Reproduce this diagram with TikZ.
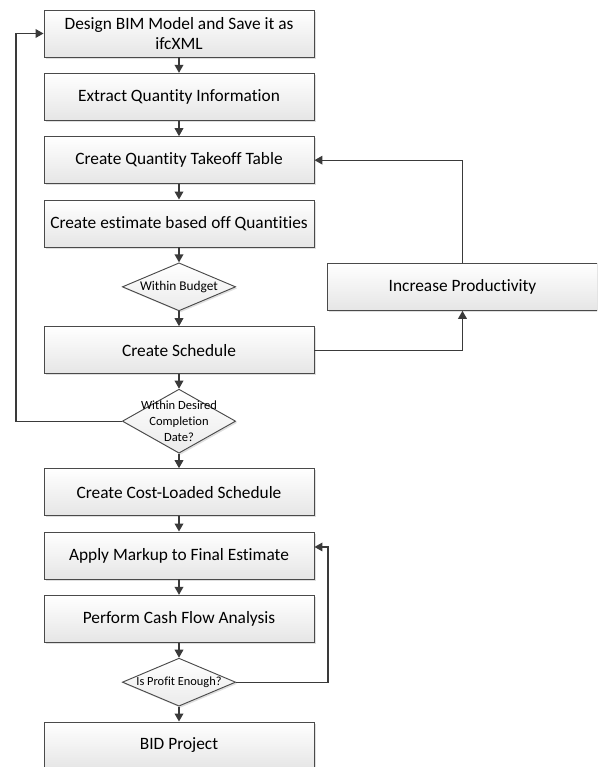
\documentclass[tikz,border=0pt]{standalone}
\usepackage{fontspec}
\setmainfont{Carlito}[Ligatures=NoCommon]
\usetikzlibrary{shapes.geometric,arrows.meta,shadows,positioning}

\definecolor{edgegray}{HTML}{4A4A4A}
\definecolor{linegray}{HTML}{3A3A3A}

\tikzset{
  stepbox/.style={rectangle, draw=edgegray, line width=0.7pt,
    top color=white, bottom color=black!10,
    drop shadow={shadow xshift=1.2pt, shadow yshift=-1.2pt, opacity=0.25},
    minimum width=202.5pt, minimum height=35.25pt, align=center,
    font=\fontsize{13}{15}\selectfont},
  decision/.style={diamond, draw=edgegray, line width=0.7pt,
    top color=white, bottom color=black!8,
    drop shadow={shadow xshift=1.2pt, shadow yshift=-1.2pt, opacity=0.25},
    minimum width=85pt, minimum height=36pt, inner sep=0pt},
  flow/.style={draw=linegray, line width=1pt, ->},
}

\begin{document}
\begin{tikzpicture}[x=0.75pt, y=0.75pt, node distance=47.5pt,
  >={Triangle[length=6pt,width=6.5pt]}]
  \useasboundingbox (0,0) rectangle (597,-767);
  \clip (0,0) rectangle (597,-767);

  \node[stepbox] (design) at (179,-33.5) {Design BIM Model and Save it as\\ifcXML};
  \node[stepbox, below of=design] (extract) {Extract Quantity Information};
  \node[stepbox, below of=extract] (takeoff) {Create Quantity Takeoff Table};
  \node[stepbox, below of=takeoff] (estimate) {Create estimate based off Quantities};
  \node[decision, below of=estimate,
    label={[font=\fontsize{10}{12}\selectfont]center:Within Budget}] (budget) {};
  \node[stepbox, right of=budget, node distance=212.6pt] (productivity) {Increase Productivity};
  \node[stepbox, below of=budget] (schedule) {Create Schedule};
  \node[decision, below of=schedule, yshift=-5.75pt, minimum height=48pt,
    label={[align=center, font=\fontsize{9.4}{12}\selectfont]center:Within Desired\\Completion\\Date?}] (datecheck) {};
  \node[stepbox, below of=datecheck, yshift=-5.75pt] (costloaded) {Create Cost-Loaded Schedule};
  \node[stepbox, below of=costloaded] (markup) {Apply Markup to Final Estimate};
  \node[stepbox, below of=markup] (cashflow) {Perform Cash Flow Analysis};
  \node[decision, below of=cashflow,
    label={[font=\fontsize{9.3}{11}\selectfont]center:Is Profit Enough?}] (profit) {};
  \node[stepbox, below of=profit] (bid) {BID Project};

  \coordinate (leftrail) at (16,0);
  \coordinate (rightrail) at (328,0);

  % main column
  \draw[flow] (design) -- (extract);
  \draw[flow] (extract) -- (takeoff);
  \draw[flow] (takeoff) -- (estimate);
  \draw[flow] (estimate) -- (budget);
  \draw[flow] (budget) -- (schedule);
  \draw[flow] (schedule) -- (datecheck);
  \draw[flow] (datecheck) -- (costloaded);
  \draw[flow] (costloaded) -- (markup);
  \draw[flow] (markup) -- (cashflow);
  \draw[flow] (cashflow) -- (profit);
  \draw[flow] (profit) -- (bid);

  % loops
  \draw[flow] (datecheck.west) -- (datecheck.west -| leftrail) |- (design.west);
  \draw[flow] (schedule.east) -| (productivity.south);
  \draw[flow] (productivity.north) |- (takeoff.east);
  \draw[flow] (profit.east) -- (profit.east -| rightrail) |- ([yshift=6.4pt]markup.east);
\end{tikzpicture}
\end{document}
